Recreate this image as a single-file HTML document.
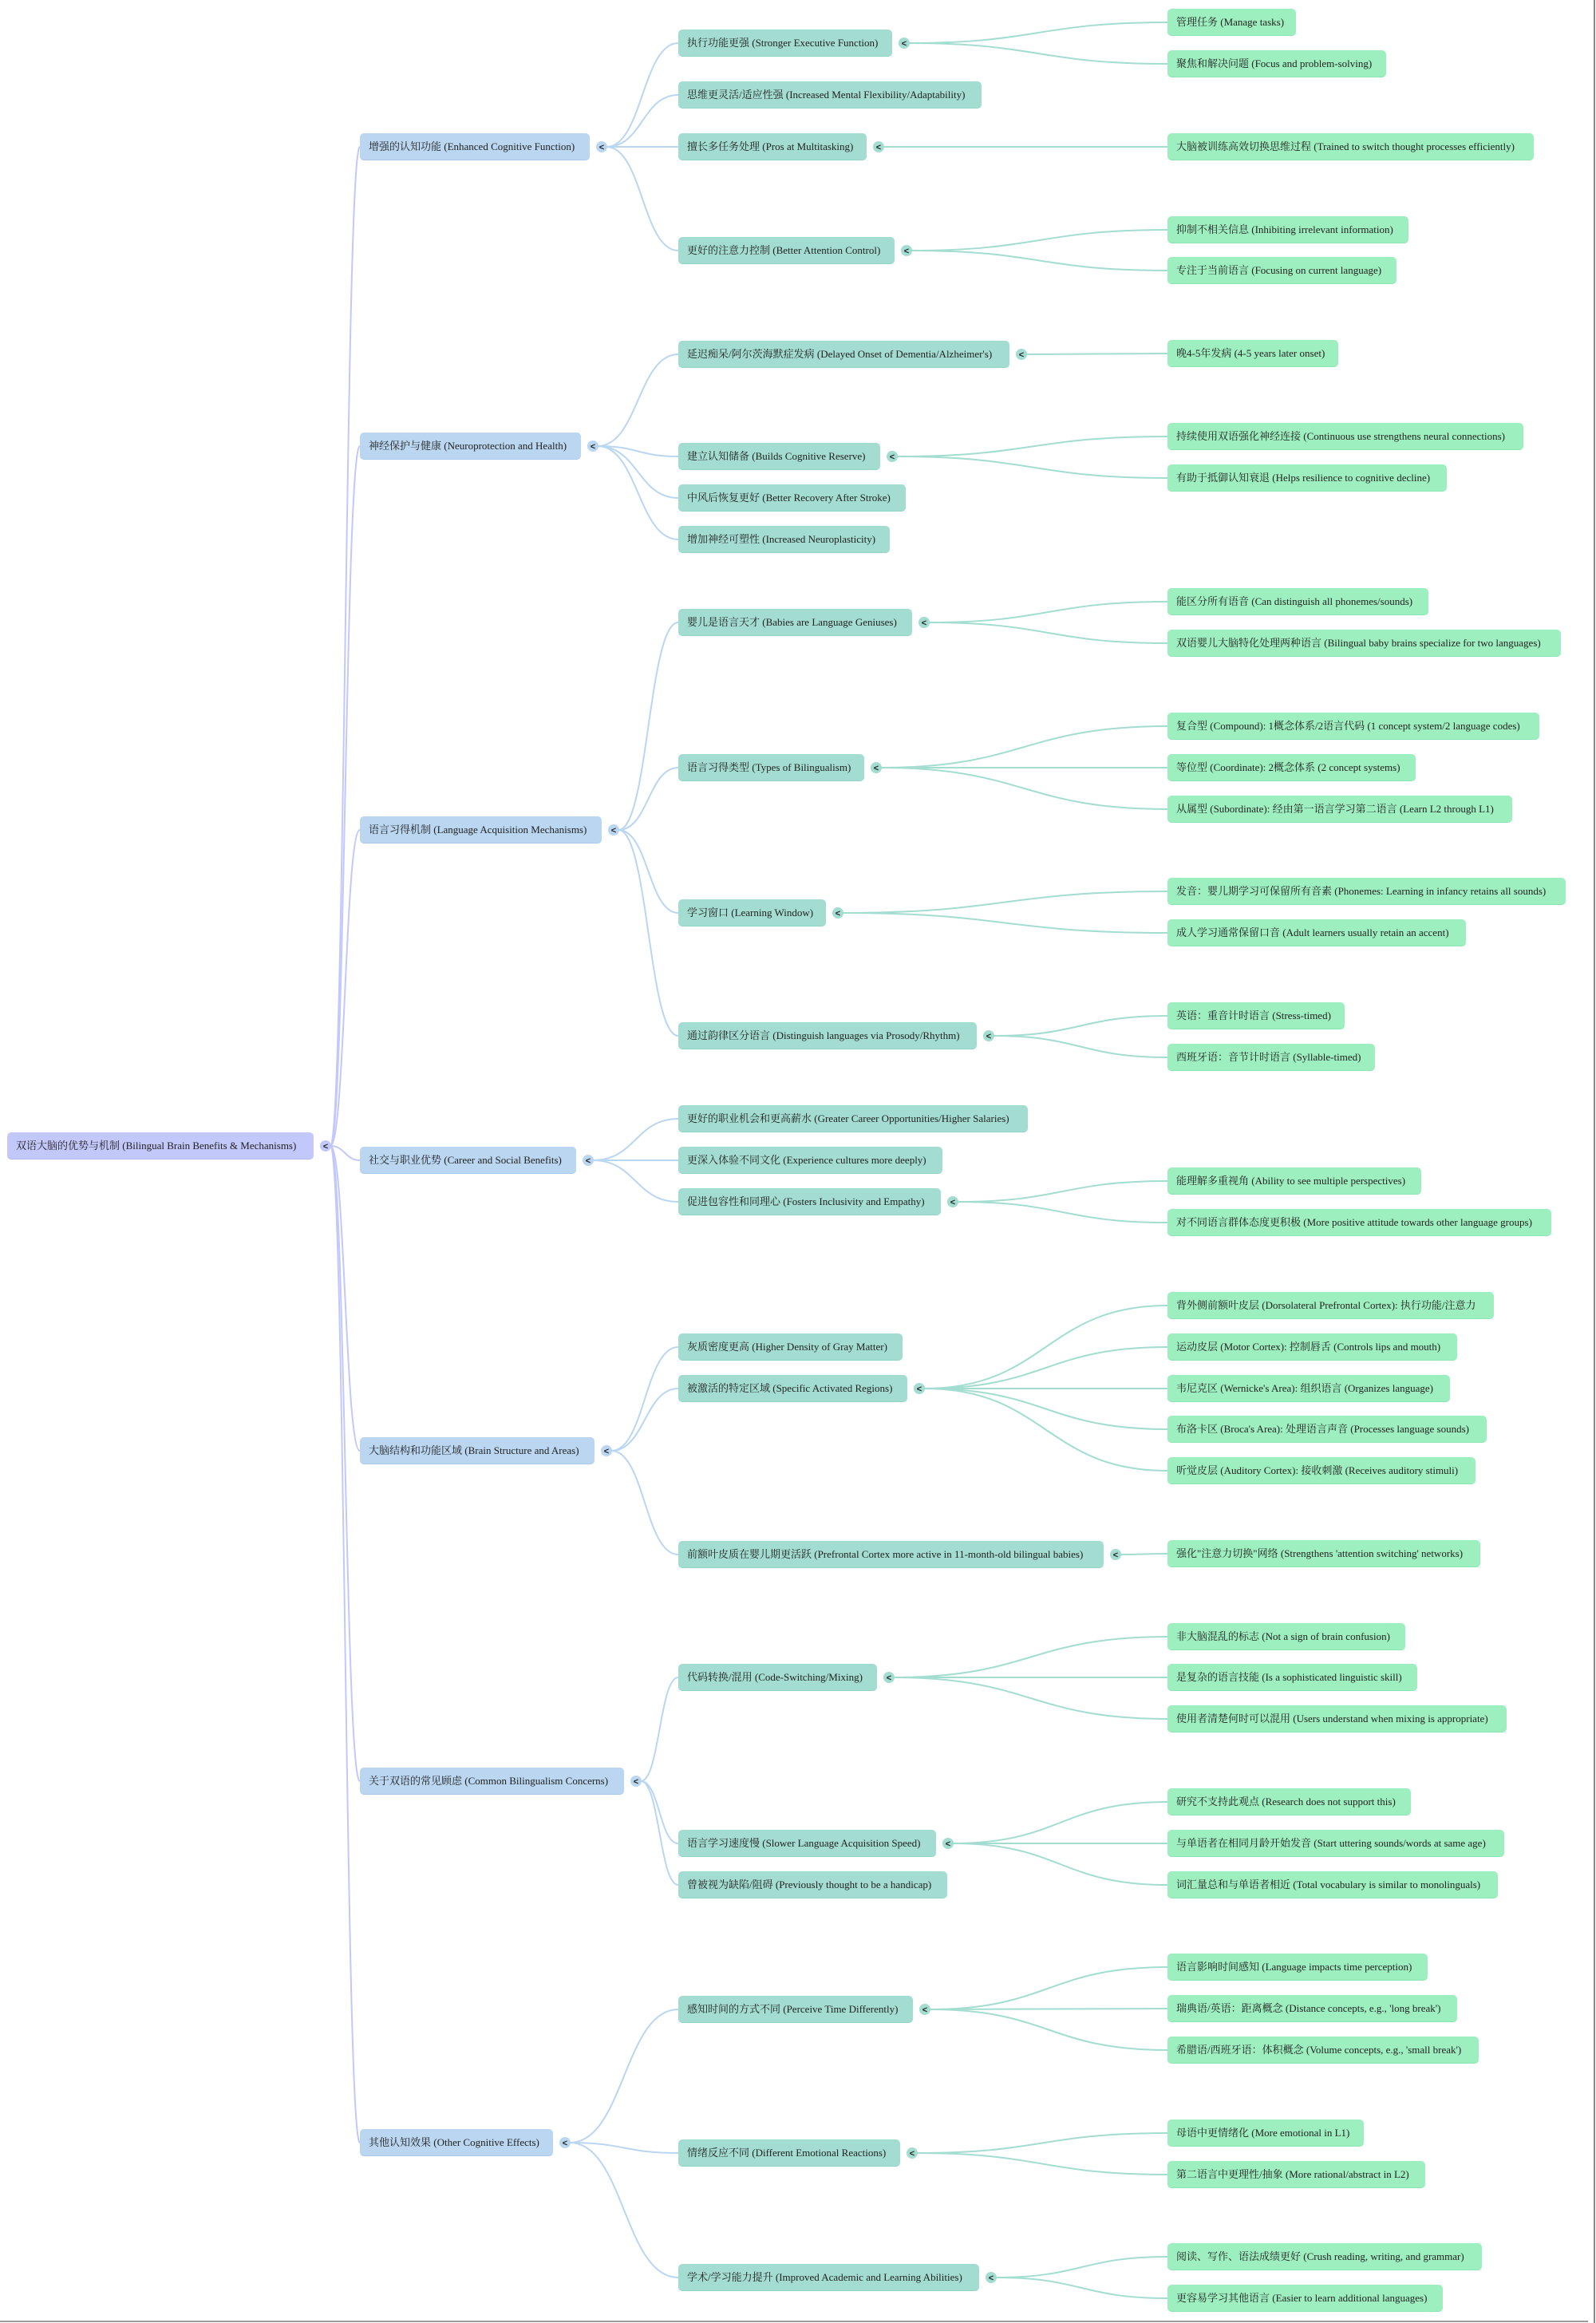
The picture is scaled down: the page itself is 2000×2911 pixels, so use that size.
<!DOCTYPE html>
<html><head><meta charset="utf-8">
<style>
html,body{margin:0;padding:0;background:#fff;}
body{width:2000px;height:2911px;position:relative;overflow:hidden;font-family:"Liberation Serif","Noto Serif CJK SC","Noto Sans CJK SC",serif;}
.n{position:absolute;height:34px;line-height:34px;font-size:13px;color:#222;border-radius:5px;padding:0 11px;white-space:nowrap;box-sizing:border-box;}
.r{background:#c3c8fb;border-bottom:1px solid #b3b9f5;}
.a{background:#bad6f1;border-bottom:1px solid #a9c9eb;}
.b{background:#a3ddd1;border-bottom:1px solid #93d3c5;}
.c{background:#9eefbf;border-bottom:1px solid #8ce6b1;}
svg{position:absolute;left:0;top:0;}
.fr{position:absolute;left:1997px;top:0;width:2px;height:2911px;background:#8a8a8a;}
.fb{position:absolute;left:0;top:2908px;width:1990px;height:2px;background:#9a9a9a;}
</style></head><body>
<svg id="s" width="2000" height="2911"></svg>

<div class="n r" id="root" style="left:9px;top:1419px">双语大脑的优势与机制 (Bilingual Brain Benefits &amp; Mechanisms)</div>

<div class="n a" id="A1" style="left:451px;top:167px">增强的认知功能 (Enhanced Cognitive Function)</div>
<div class="n a" id="A2" style="left:451px;top:542px">神经保护与健康 (Neuroprotection and Health)</div>
<div class="n a" id="A3" style="left:451px;top:1023px">语言习得机制 (Language Acquisition Mechanisms)</div>
<div class="n a" id="A4" style="left:451px;top:1437px">社交与职业优势 (Career and Social Benefits)</div>
<div class="n a" id="A5" style="left:451px;top:1801px">大脑结构和功能区域 (Brain Structure and Areas)</div>
<div class="n a" id="A6" style="left:451px;top:2215px">关于双语的常见顾虑 (Common Bilingualism Concerns)</div>
<div class="n a" id="A7" style="left:451px;top:2668px">其他认知效果 (Other Cognitive Effects)</div>

<div class="n b" id="B1" style="left:850px;top:37px">执行功能更强 (Stronger Executive Function)</div>
<div class="n b" id="B2" style="left:850px;top:102px">思维更灵活/适应性强 (Increased Mental Flexibility/Adaptability)</div>
<div class="n b" id="B3" style="left:850px;top:167px">擅长多任务处理 (Pros at Multitasking)</div>
<div class="n b" id="B4" style="left:850px;top:297px">更好的注意力控制 (Better Attention Control)</div>
<div class="n b" id="B5" style="left:850px;top:427px">延迟痴呆/阿尔茨海默症发病 (Delayed Onset of Dementia/Alzheimer's)</div>
<div class="n b" id="B6" style="left:850px;top:555px">建立认知储备 (Builds Cognitive Reserve)</div>
<div class="n b" id="B7" style="left:850px;top:607px">中风后恢复更好 (Better Recovery After Stroke)</div>
<div class="n b" id="B8" style="left:850px;top:659px">增加神经可塑性 (Increased Neuroplasticity)</div>
<div class="n b" id="B9" style="left:850px;top:763px">婴儿是语言天才 (Babies are Language Geniuses)</div>
<div class="n b" id="B10" style="left:850px;top:945px">语言习得类型 (Types of Bilingualism)</div>
<div class="n b" id="B11" style="left:850px;top:1127px">学习窗口 (Learning Window)</div>
<div class="n b" id="B12" style="left:850px;top:1281px">通过韵律区分语言 (Distinguish languages via Prosody/Rhythm)</div>
<div class="n b" id="B13" style="left:850px;top:1385px">更好的职业机会和更高薪水 (Greater Career Opportunities/Higher Salaries)</div>
<div class="n b" id="B14" style="left:850px;top:1437px">更深入体验不同文化 (Experience cultures more deeply)</div>
<div class="n b" id="B15" style="left:850px;top:1489px">促进包容性和同理心 (Fosters Inclusivity and Empathy)</div>
<div class="n b" id="B16" style="left:850px;top:1671px">灰质密度更高 (Higher Density of Gray Matter)</div>
<div class="n b" id="B17" style="left:850px;top:1723px">被激活的特定区域 (Specific Activated Regions)</div>
<div class="n b" id="B18" style="left:850px;top:1931px">前额叶皮质在婴儿期更活跃 (Prefrontal Cortex more active in 11-month-old bilingual babies)</div>
<div class="n b" id="B19" style="left:850px;top:2085px">代码转换/混用 (Code-Switching/Mixing)</div>
<div class="n b" id="B20" style="left:850px;top:2293px">语言学习速度慢 (Slower Language Acquisition Speed)</div>
<div class="n b" id="B21" style="left:850px;top:2345px">曾被视为缺陷/阻碍 (Previously thought to be a handicap)</div>
<div class="n b" id="B22" style="left:850px;top:2501px">感知时间的方式不同 (Perceive Time Differently)</div>
<div class="n b" id="B23" style="left:850px;top:2681px">情绪反应不同 (Different Emotional Reactions)</div>
<div class="n b" id="B24" style="left:850px;top:2837px">学术/学习能力提升 (Improved Academic and Learning Abilities)</div>

<div class="n c" id="C1" style="left:1463px;top:11px">管理任务 (Manage tasks)</div>
<div class="n c" id="C2" style="left:1463px;top:63px">聚焦和解决问题 (Focus and problem-solving)</div>
<div class="n c" id="C3" style="left:1463px;top:167px">大脑被训练高效切换思维过程 (Trained to switch thought processes efficiently)</div>
<div class="n c" id="C4" style="left:1463px;top:271px">抑制不相关信息 (Inhibiting irrelevant information)</div>
<div class="n c" id="C5" style="left:1463px;top:322px">专注于当前语言 (Focusing on current language)</div>
<div class="n c" id="C6" style="left:1463px;top:426px">晚4-5年发病 (4-5 years later onset)</div>
<div class="n c" id="C7" style="left:1463px;top:530px">持续使用双语强化神经连接 (Continuous use strengthens neural connections)</div>
<div class="n c" id="C8" style="left:1463px;top:582px">有助于抵御认知衰退 (Helps resilience to cognitive decline)</div>
<div class="n c" id="C9" style="left:1463px;top:737px">能区分所有语音 (Can distinguish all phonemes/sounds)</div>
<div class="n c" id="C10" style="left:1463px;top:789px">双语婴儿大脑特化处理两种语言 (Bilingual baby brains specialize for two languages)</div>
<div class="n c" id="C11" style="left:1463px;top:893px">复合型 (Compound): 1概念体系/2语言代码 (1 concept system/2 language codes)</div>
<div class="n c" id="C12" style="left:1463px;top:945px">等位型 (Coordinate): 2概念体系 (2 concept systems)</div>
<div class="n c" id="C13" style="left:1463px;top:997px">从属型 (Subordinate): 经由第一语言学习第二语言 (Learn L2 through L1)</div>
<div class="n c" id="C14" style="left:1463px;top:1100px">发音：婴儿期学习可保留所有音素 (Phonemes: Learning in infancy retains all sounds)</div>
<div class="n c" id="C15" style="left:1463px;top:1152px">成人学习通常保留口音 (Adult learners usually retain an accent)</div>
<div class="n c" id="C16" style="left:1463px;top:1256px">英语：重音计时语言 (Stress-timed)</div>
<div class="n c" id="C17" style="left:1463px;top:1308px">西班牙语：音节计时语言 (Syllable-timed)</div>
<div class="n c" id="C18" style="left:1463px;top:1463px">能理解多重视角 (Ability to see multiple perspectives)</div>
<div class="n c" id="C19" style="left:1463px;top:1515px">对不同语言群体态度更积极 (More positive attitude towards other language groups)</div>
<div class="n c" id="C20" style="left:1463px;top:1619px">背外侧前额叶皮层 (Dorsolateral Prefrontal Cortex): 执行功能/注意力</div>
<div class="n c" id="C21" style="left:1463px;top:1671px">运动皮层 (Motor Cortex): 控制唇舌 (Controls lips and mouth)</div>
<div class="n c" id="C22" style="left:1463px;top:1723px">韦尼克区 (Wernicke's Area): 组织语言 (Organizes language)</div>
<div class="n c" id="C23" style="left:1463px;top:1774px">布洛卡区 (Broca's Area): 处理语言声音 (Processes language sounds)</div>
<div class="n c" id="C24" style="left:1463px;top:1826px">听觉皮层 (Auditory Cortex): 接收刺激 (Receives auditory stimuli)</div>
<div class="n c" id="C25" style="left:1463px;top:1930px">强化"注意力切换"网络 (Strengthens 'attention switching' networks)</div>
<div class="n c" id="C26" style="left:1463px;top:2034px">非大脑混乱的标志 (Not a sign of brain confusion)</div>
<div class="n c" id="C27" style="left:1463px;top:2085px">是复杂的语言技能 (Is a sophisticated linguistic skill)</div>
<div class="n c" id="C28" style="left:1463px;top:2137px">使用者清楚何时可以混用 (Users understand when mixing is appropriate)</div>
<div class="n c" id="C29" style="left:1463px;top:2241px">研究不支持此观点 (Research does not support this)</div>
<div class="n c" id="C30" style="left:1463px;top:2293px">与单语者在相同月龄开始发音 (Start uttering sounds/words at same age)</div>
<div class="n c" id="C31" style="left:1463px;top:2345px">词汇量总和与单语者相近 (Total vocabulary is similar to monolinguals)</div>
<div class="n c" id="C32" style="left:1463px;top:2448px">语言影响时间感知 (Language impacts time perception)</div>
<div class="n c" id="C33" style="left:1463px;top:2500px">瑞典语/英语：距离概念 (Distance concepts, e.g., 'long break')</div>
<div class="n c" id="C34" style="left:1463px;top:2552px">希腊语/西班牙语：体积概念 (Volume concepts, e.g., 'small break')</div>
<div class="n c" id="C35" style="left:1463px;top:2656px">母语中更情绪化 (More emotional in L1)</div>
<div class="n c" id="C36" style="left:1463px;top:2708px">第二语言中更理性/抽象 (More rational/abstract in L2)</div>
<div class="n c" id="C37" style="left:1463px;top:2811px">阅读、写作、语法成绩更好 (Crush reading, writing, and grammar)</div>
<div class="n c" id="C38" style="left:1463px;top:2863px">更容易学习其他语言 (Easier to learn additional languages)</div>

<div class="fr"></div><div class="fb"></div>

<script>
(function(){
var ns="http://www.w3.org/2000/svg",s=document.getElementById('s');
var els=document.querySelectorAll('.n');
for(var i=0;i<els.length;i++){var e=els[i];var w=e.scrollWidth-22;e.style.width=Math.round(w*1.03+22)+'px';}
var tree={root:['A1','A2','A3','A4','A5','A6','A7'],
A1:['B1','B2','B3','B4'],A2:['B5','B6','B7','B8'],A3:['B9','B10','B11','B12'],A4:['B13','B14','B15'],
A5:['B16','B17','B18'],A6:['B19','B20','B21'],A7:['B22','B23','B24'],
B1:['C1','C2'],B3:['C3'],B4:['C4','C5'],B5:['C6'],B6:['C7','C8'],B9:['C9','C10'],B10:['C11','C12','C13'],
B11:['C14','C15'],B12:['C16','C17'],B15:['C18','C19'],B17:['C20','C21','C22','C23','C24'],B18:['C25'],
B19:['C26','C27','C28'],B20:['C29','C30','C31'],B22:['C32','C33','C34'],B23:['C35','C36'],B24:['C37','C38']};
function col(id){return id=='root'?'#c3c8fb':id[0]=='A'?'#bad6f1':'#a3ddd1';}
var circles=[];
for(var p in tree){
 var pe=document.getElementById(p);
 var cx=pe.offsetLeft+pe.offsetWidth+15, cy=pe.offsetTop+17;
 var x1=cx+6;
 tree[p].forEach(function(c){
  var ce=document.getElementById(c);
  var x2=ce.offsetLeft, y2=ce.offsetTop+17, m=(x1+x2)/2;
  var path=document.createElementNS(ns,'path');
  path.setAttribute('d','M'+x1+' '+cy+' C'+m+' '+cy+' '+m+' '+y2+' '+x2+' '+y2);
  path.setAttribute('fill','none');path.setAttribute('stroke',col(p));path.setAttribute('stroke-width','2');
  s.appendChild(path);
 });
 circles.push([cx,cy,col(p)]);
}
circles.forEach(function(c){
 var ci=document.createElementNS(ns,'circle');
 ci.setAttribute('cx',c[0]);ci.setAttribute('cy',c[1]);ci.setAttribute('r','7');ci.setAttribute('fill',c[2]);
 s.appendChild(ci);
 var t=document.createElementNS(ns,'text');
 t.setAttribute('x',c[0]);t.setAttribute('y',c[1]+4);t.setAttribute('text-anchor','middle');
 t.setAttribute('font-size','11');t.setAttribute('font-weight','bold');t.setAttribute('font-family','Liberation Sans,sans-serif');t.setAttribute('fill','#222');
 t.textContent='<';s.appendChild(t);
});
})();
</script>
</body></html>
